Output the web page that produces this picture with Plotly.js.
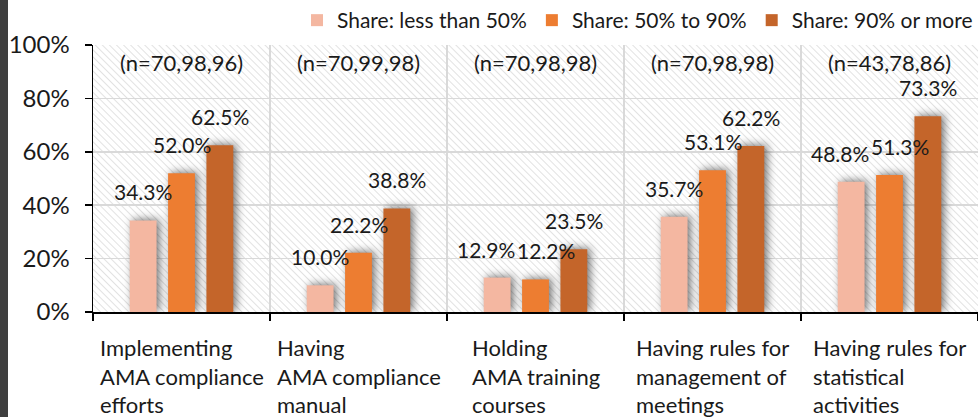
<!DOCTYPE html>
<html>
<head>
<meta charset="utf-8">
<script src="https://cdn.plot.ly/plotly-3.0.1.min.js"></script>
<style>
  html, body { margin: 0; padding: 0; background: #fff; }
  #wrap { position: relative; width: 978px; height: 417px; }
  #chart { position: absolute; left: 0; top: 0; width: 978px; height: 417px; }
  #edge { position: absolute; left: 0; top: 0; width: 8px; height: 417px; background: #3f3f3f; }
  .bglayer rect.bg { fill: url(#hatch) !important; }
  .bars .point path { filter: drop-shadow(3px -1px 4px rgba(0,0,0,0.55)); }
</style>
</head>
<body>
<svg width="0" height="0" style="position:absolute">
  <defs>
    <pattern id="hatch" patternUnits="userSpaceOnUse" width="5" height="5" patternTransform="rotate(-45)">
      <rect x="0" y="0" width="5" height="5" fill="#ffffff"></rect>
      <line x1="0" y1="0" x2="0" y2="5" stroke="#d9d9d9" stroke-width="1.5"></line>
    </pattern>
  </defs>
</svg>
<div id="wrap">
  <div id="chart"></div>
  <div id="edge"></div>
</div>
<script>
const categories = [
  "Implementing<br>AMA compliance<br>efforts",
  "Having<br>AMA compliance<br>manual",
  "Holding<br>AMA training<br>courses",
  "Having rules for<br>management of<br>meetings",
  "Having rules for<br>statistical<br>activities"
];
const sampleSizes = ["(n=70,98,96)", "(n=70,99,98)", "(n=70,98,98)", "(n=70,98,98)", "(n=43,78,86)"];
const seriesNames = ["Share: less than 50%", "Share: 50% to 90%", "Share: 90% or more"];
const lessThan50 = [34.3, 10.0, 12.9, 35.7, 48.8];
const from50to90 = [52.0, 22.2, 12.2, 53.1, 51.3];
const over90 = [62.5, 38.8, 23.5, 62.2, 73.3];
const yTicks = [0, 20, 40, 60, 80, 100];

const colors = ["#F4B7A1", "#ED7D31", "#C4652A"];
const font = "Lato, 'Open Sans', sans-serif";
const xs = categories.map((c, i) => i);
const seriesValues = [lessThan50, from50to90, over90];
const BARGAP = 0.35, BARGROUPGAP = 0.3;
const W = 978, H = 417, ML = 93, MR = 0, MT = 42, MB = 105;

const traces = seriesValues.map((vals, k) => ({
  type: "bar",
  name: seriesNames[k],
  x: xs,
  y: vals,
  marker: { color: colors[k] },
  hoverinfo: "none"
}));

const annotations = [];
// value labels above each bar, nudged sideways when neighbours would collide
const nS = seriesValues.length;
const slot = (1 - BARGAP) / nS;
const pxPerX = (W - ML - MR) / categories.length;
const pxPerY = (H - MT - MB) / 100;
const LABEL_W = 58, LABEL_H = 20;
xs.forEach(i => {
  const shifts = seriesValues.map(() => 0);
  for (let k = 1; k < nS; k++) {
    const dy = Math.abs(seriesValues[k][i] - seriesValues[k - 1][i]) * pxPerY;
    const dx = slot * pxPerX;
    if (dy < LABEL_H && dx < LABEL_W) {
      const push = (LABEL_W - dx) / 2 + 1;
      shifts[k - 1] -= push;
      shifts[k] += push;
    }
  }
  seriesValues.forEach((vals, k) => {
    annotations.push({
      x: i + (k - (nS - 1) / 2) * slot, y: vals[i], xref: "x", yref: "y",
      text: vals[i].toFixed(1) + "%", showarrow: false,
      xanchor: "center", yanchor: "bottom", yshift: 14, xshift: shifts[k],
      font: { family: font, size: 21, color: "#1a1a1a" }
    });
  });
});
sampleSizes.forEach((s, i) => {
  annotations.push({
    x: i, y: 93.3, xref: "x", yref: "y", text: s, showarrow: false,
    font: { family: font, size: 22, color: "#1a1a1a" }
  });
});
categories.forEach((c, i) => {
  annotations.push({
    x: i, y: -0.075, xref: "x", yref: "paper", text: c, showarrow: false,
    xanchor: "center", yanchor: "top", align: "left",
    font: { family: font, size: 22, color: "#1a1a1a" }
  });
});

const boundaries = [];
for (let i = 0; i <= categories.length; i++) boundaries.push(i - 0.5);

const layout = {
  width: W, height: H,
  margin: { l: ML, r: MR, t: MT, b: MB },
  paper_bgcolor: "rgba(0,0,0,0)",
  plot_bgcolor: "#ffffff",
  barmode: "group",
  bargap: BARGAP,
  bargroupgap: BARGROUPGAP,
  showlegend: true,
  legend: {
    orientation: "h", x: 1, xanchor: "right", y: 1.015, yanchor: "bottom",
    font: { family: font, size: 21, color: "#1a1a1a" },
    bgcolor: "rgba(0,0,0,0)", traceorder: "normal", itemwidth: 30
  },
  xaxis: {
    range: [-0.5, 4.5], tickvals: xs, ticktext: xs.map(() => ""),
    showticklabels: false, ticks: "", showgrid: false, zeroline: false,
    showline: true, linecolor: "#000", linewidth: 1.5,
    minor: { tickvals: boundaries, ticks: "outside", ticklen: 7, tickcolor: "#000", tickwidth: 1.5,
             showgrid: true, gridcolor: "#d9d9d9", gridwidth: 1.5 }
  },
  yaxis: {
    range: [0, 100], tickvals: yTicks, ticktext: yTicks.map(v => v + "%"),
    ticks: "outside", ticklen: 7, tickcolor: "#000", tickwidth: 1.5,
    ticklabelstandoff: 10,
    showline: true, linecolor: "#000", linewidth: 1.5,
    showgrid: true, gridcolor: "#d9d9d9", gridwidth: 1.5, zeroline: false,
    tickfont: { family: font, size: 24, color: "#1a1a1a" }
  },
  annotations: annotations
};

Plotly.newPlot("chart", traces, layout, { displayModeBar: false, staticPlot: true });
</script>
</body>
</html>
